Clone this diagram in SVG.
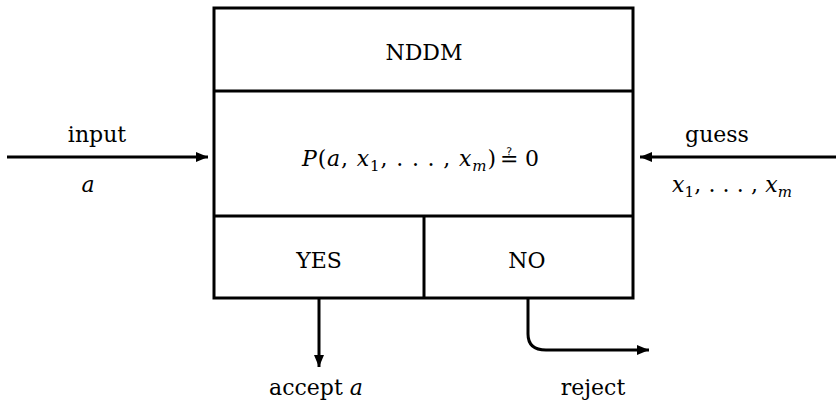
<svg xmlns="http://www.w3.org/2000/svg" width="836" height="404" viewBox="0 0 836 404">
<style>
.box{fill:none;stroke:#000;stroke-width:3}
.ln{fill:none;stroke:#000;stroke-width:3}
text{font-family:'DejaVu Serif','Liberation Serif',serif;font-size:22px;fill:#000}
.it{font-style:italic}
.sub{font-size:15px}
</style>
<defs>
<marker id="ah" viewBox="0 0 12 10" refX="12" refY="5" markerWidth="12" markerHeight="10" markerUnits="userSpaceOnUse" orient="auto">
<path d="M0,0 L12,5 L0,10 Z" fill="#000"/>
</marker>
</defs>
<g id="nddm">
<rect class="box" x="214" y="8" width="419" height="290"/>
<line class="box" x1="214" y1="91" x2="633" y2="91"/>
<line class="box" x1="214" y1="216" x2="633" y2="216"/>
<line class="box" x1="424" y1="216" x2="424" y2="298"/>
<text x="424" y="60" text-anchor="middle">NDDM</text>
<text x="302" y="166" textLength="194" lengthAdjust="spacing"><tspan class="it">P</tspan>(<tspan class="it">a</tspan>, <tspan class="it">x</tspan><tspan class="sub" dy="5">1</tspan><tspan dy="-5">, . . . , </tspan><tspan class="it">x</tspan><tspan class="sub it" dy="5">m</tspan><tspan dy="-5">)</tspan></text>
<text x="500" y="166">≟<tspan x="525" y="166">0</tspan></text>
<text x="319" y="268" text-anchor="middle">YES</text>
<text x="527" y="268" text-anchor="middle">NO</text>
</g>
<g id="connectors">
<line class="ln" x1="7" y1="157" x2="208" y2="157" marker-end="url(#ah)"/>
<line class="ln" x1="836" y1="157" x2="640" y2="157" marker-end="url(#ah)"/>
<line class="ln" x1="319" y1="298" x2="319" y2="367" marker-end="url(#ah)"/>
<path class="ln" d="M528,298 L528,334 Q528,350 546,350 L649,350" marker-end="url(#ah)"/>
</g>
<g id="labels">
<text x="97" y="142" text-anchor="middle">input</text>
<text x="88" y="192" text-anchor="middle" class="it">a</text>
<text x="717" y="142" text-anchor="middle">guess</text>
<text x="672" y="192" textLength="120" lengthAdjust="spacing"><tspan class="it">x</tspan><tspan class="sub" dy="5">1</tspan><tspan dy="-5">, . . . , </tspan><tspan class="it">x</tspan><tspan class="sub it" dy="5">m</tspan></text>
<text x="316" y="395" text-anchor="middle">accept <tspan class="it">a</tspan></text>
<text x="593" y="395" text-anchor="middle">reject</text>
</g>
</svg>
